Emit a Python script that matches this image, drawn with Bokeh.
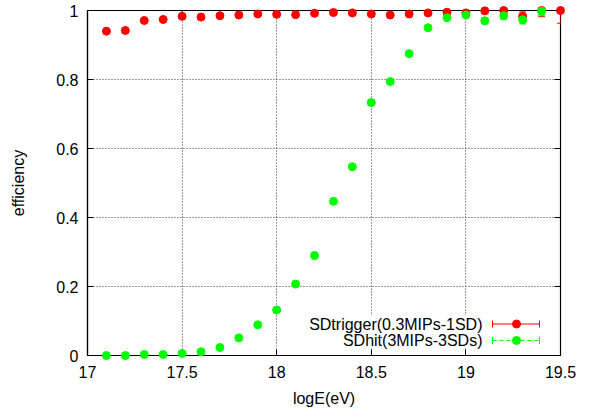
from bokeh.plotting import figure
from bokeh.models import FixedTicker, BoxAnnotation, Range1d
from bokeh.core.properties import value
from bokeh.embed import file_html
from bokeh.resources import INLINE

# ---------------- data ----------------
energy_trigger = [17.1, 17.2, 17.3, 17.4, 17.5, 17.6, 17.7, 17.8, 17.9, 18.0,
                  18.1, 18.2, 18.3, 18.4, 18.5, 18.6, 18.7, 18.8, 18.9, 19.0,
                  19.1, 19.2, 19.3, 19.4, 19.5]
eff_trigger = [0.940, 0.942, 0.971, 0.974, 0.983, 0.981, 0.985, 0.987, 0.990, 0.989,
               0.988, 0.992, 0.994, 0.993, 0.990, 0.987, 0.990, 0.993, 0.995, 0.993,
               0.999, 1.000, 0.983, 1.000, 1.000]
err_trigger = [0.003, 0.003, 0.003, 0.003, 0.003, 0.003, 0.003, 0.003, 0.003, 0.003,
               0.003, 0.003, 0.003, 0.003, 0.003, 0.003, 0.003, 0.003, 0.003, 0.004,
               0.004, 0.006, 0.013, 0.018, 0.037]

energy_hit = [17.1, 17.2, 17.3, 17.4, 17.5, 17.6, 17.7, 17.8, 17.9, 18.0,
              18.1, 18.2, 18.3, 18.4, 18.5, 18.6, 18.7, 18.8, 18.9, 19.0,
              19.1, 19.2, 19.3, 19.4]
eff_hit = [0.000, 0.000, 0.003, 0.003, 0.006, 0.011, 0.023, 0.051, 0.089, 0.132,
           0.207, 0.290, 0.447, 0.547, 0.733, 0.794, 0.875, 0.950, 0.979, 0.987,
           0.970, 0.985, 0.973, 0.998]
err_hit = [0.001, 0.001, 0.001, 0.001, 0.002, 0.002, 0.003, 0.004, 0.005, 0.005,
           0.006, 0.006, 0.007, 0.007, 0.006, 0.006, 0.005, 0.004, 0.004, 0.004,
           0.008, 0.010, 0.012, 0.013]

x_ticks = [17, 17.5, 18, 18.5, 19, 19.5]
x_tick_labels = ["17", "17.5", "18", "18.5", "19", "19.5"]
y_ticks = [0, 0.2, 0.4, 0.6, 0.8, 1]
y_tick_labels = ["0", "0.2", "0.4", "0.6", "0.8", "1"]
legend_labels = ["SDtrigger(0.3MIPs-1SD)", "SDhit(3MIPs-3SDs)"]
x_label = "logE(eV)"
y_label = "efficiency"

# ---------------- layout ----------------
W, H = 591, 412
BL, BR, BT, BB = 87, 31, 10, 57
FW, FH = W - BL - BR, H - BT - BB
X0, X1 = 17.0, 19.5
Y0, Y1 = 0.0, 1.0
FONT = "Liberation Sans"
FS = "16px"
RED = "#ff0000"
GREEN = "#00ff00"
TICK = 6


def fx(px):  # figure pixel -> data x
    return X0 + (px - BL) / FW * (X1 - X0)


def fy(py):  # figure pixel -> data y
    return Y0 + (BT + FH - py) / FH * (Y1 - Y0)


p = figure(width=W, height=H, x_range=Range1d(X0, X1), y_range=Range1d(Y0, Y1),
           output_backend="svg", toolbar_location=None,
           min_border_left=BL, min_border_right=BR, min_border_top=BT,
           min_border_bottom=BB)
p.background_fill_color = "white"
p.border_fill_color = "white"
p.outline_line_color = "black"
p.outline_line_width = 1.2

x_over = {t: l for t, l in zip(x_ticks, x_tick_labels)}
y_over = {t: l for t, l in zip(y_ticks, y_tick_labels)}

for ax in (p.xaxis[0], p.yaxis[0]):
    ax.major_tick_in = TICK
    ax.major_tick_out = 0
    ax.minor_tick_in = 0
    ax.minor_tick_out = 0
    ax.axis_line_color = "black"
    ax.axis_line_width = 1.2
    ax.major_tick_line_color = "black"
    ax.major_label_text_font = FONT
    ax.major_label_text_font_size = FS
    ax.major_label_text_color = "black"
    ax.axis_label_text_font = FONT
    ax.axis_label_text_font_size = FS
    ax.axis_label_text_font_style = "normal"
    ax.axis_label_text_color = "black"

p.xaxis[0].ticker = FixedTicker(ticks=x_ticks)
p.xaxis[0].major_label_overrides = x_over
p.xaxis[0].major_label_standoff = 10
p.xaxis[0].axis_label = x_label
p.xaxis[0].axis_label_standoff = 9

p.yaxis[0].ticker = FixedTicker(ticks=y_ticks)
p.yaxis[0].major_label_overrides = y_over
p.yaxis[0].major_label_standoff = 9
p.yaxis[0].axis_label = y_label
p.yaxis[0].axis_label_standoff = 26

p.xgrid.ticker = FixedTicker(ticks=x_ticks)
p.ygrid.ticker = FixedTicker(ticks=y_ticks)
for g in (p.xgrid[0], p.ygrid[0]):
    g.grid_line_color = "#3a3a3a"
    g.grid_line_dash = "1 2"
    g.grid_line_width = 1

# mirror ticks on top and right edges
tx_len = TICK / FW * (X1 - X0)
ty_len = TICK / FH * (Y1 - Y0)
p.segment(x0=x_ticks, y0=[Y1] * len(x_ticks), x1=x_ticks,
          y1=[Y1 - ty_len] * len(x_ticks), line_color="black", line_width=1)
p.segment(x0=[X1] * len(y_ticks), y0=y_ticks, x1=[X1 - tx_len] * len(y_ticks),
          y1=y_ticks, line_color="black", line_width=1)

# ---------------- series ----------------
cap = 7
for xs, ys, es, col in ((energy_trigger, eff_trigger, err_trigger, RED),
                        (energy_hit, eff_hit, err_hit, GREEN)):
    lo = [v - e for v, e in zip(ys, es)]
    hi = [v + e for v, e in zip(ys, es)]
    p.segment(x0=xs, y0=lo, x1=xs, y1=hi, line_color=col, line_width=1)
    p.scatter(xs, lo, marker="dash", size=cap, line_color=col, line_width=1)
    p.scatter(xs, hi, marker="dash", size=cap, line_color=col, line_width=1)
    p.scatter(xs, ys, marker="circle", size=8, fill_color=col, line_color=col,
              level="overlay")

# ---------------- legend ----------------
box = BoxAnnotation(left=fx(300), right=fx(549), top=fy(315), bottom=fy(348),
                    fill_color="white", fill_alpha=1.0, line_color=None)
p.add_layout(box)

rows = [323.5, 340]
dashes = ["solid", "4 3"]
cols = [RED, GREEN]
lx0, lx1, lxc, tx = 492, 539, 516, 482
for lab, ry, dsh, col in zip(legend_labels, rows, dashes, cols):
    yd = fy(ry)
    ch = 3.5 / FH * (Y1 - Y0)
    p.text(x=[fx(tx)], y=[yd], text=[lab], text_font=value(FONT), text_font_size=FS,
           text_align="right", text_baseline="middle", text_color="black",
           level="overlay")
    p.segment(x0=[fx(lx0)], y0=[yd], x1=[fx(lx1)], y1=[yd], line_color=col,
              line_width=1, line_dash=dsh, level="overlay")
    p.segment(x0=[fx(lx0), fx(lx1)], y0=[yd - ch, yd - ch], x1=[fx(lx0), fx(lx1)],
              y1=[yd + ch, yd + ch], line_color=col, line_width=1, level="overlay")
    p.scatter([fx(lxc)], [yd], marker="circle", size=8, fill_color=col,
              line_color=col, level="overlay")

open("out.html", "w").write(file_html(p, INLINE))
